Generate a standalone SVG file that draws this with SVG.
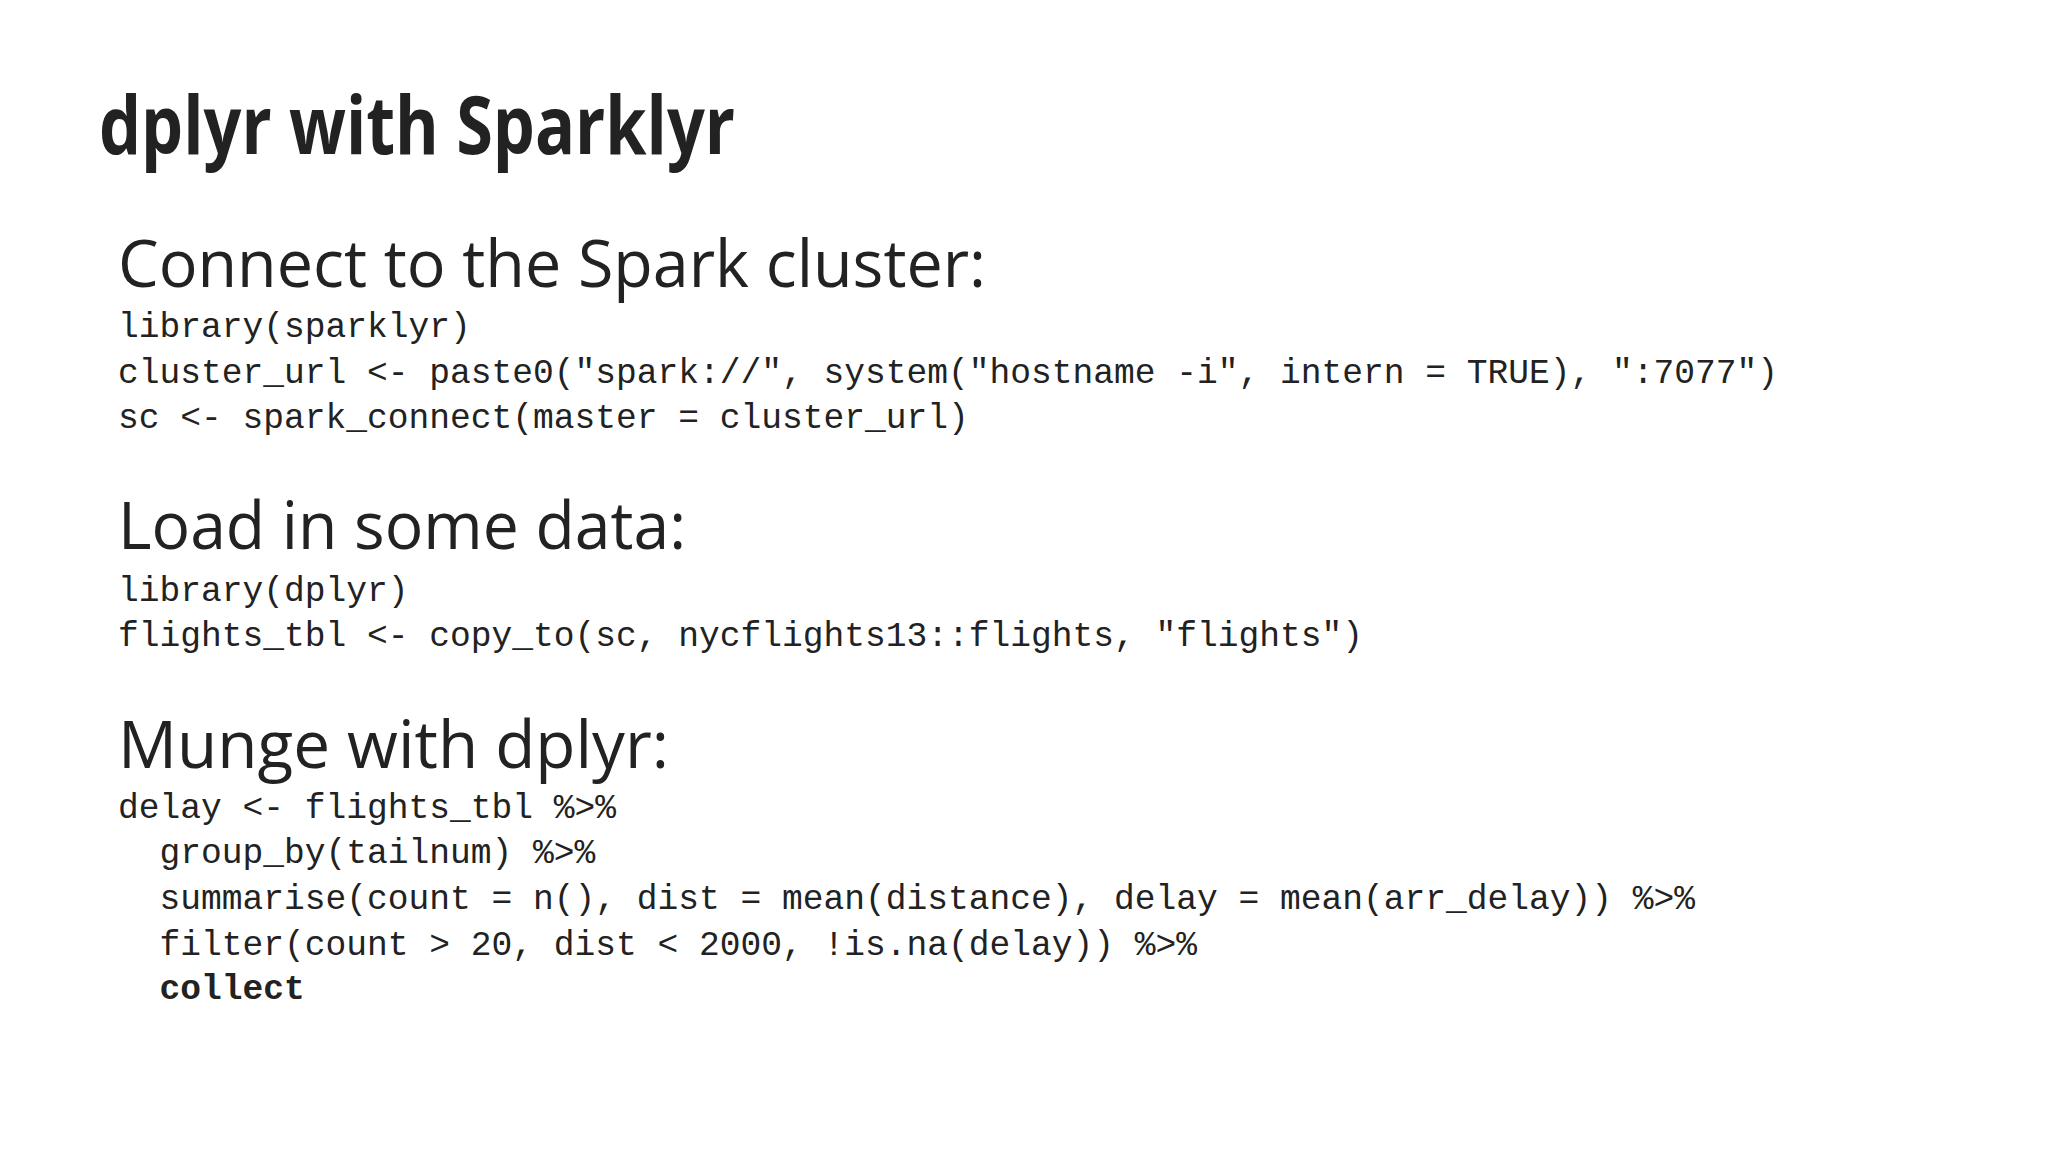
<svg xmlns="http://www.w3.org/2000/svg" width="2048" height="1152" viewBox="0 0 2048 1152">
<style>
.t{font-family:"Open Sans","Noto Sans",sans-serif;font-weight:bold;font-size:80px;fill:#222}
.h{font-family:"Open Sans","Noto Sans",sans-serif;font-size:66px;fill:#222}
.c{font-family:"Liberation Mono","DejaVu Sans Mono",monospace;font-size:34.6px;fill:#222}
</style>
<rect width="2048" height="1152" fill="#fff"/>
<text class="t" x="99" y="154" textLength="636" lengthAdjust="spacingAndGlyphs">dplyr with Sparklyr</text>
<text class="h" x="118" y="287" textLength="868" lengthAdjust="spacingAndGlyphs">Connect to the Spark cluster:</text>
<text class="c" x="118" y="337" xml:space="preserve">library(sparklyr)</text>
<text class="c" x="118" y="383" xml:space="preserve">cluster_url &lt;- paste0("spark://", system("hostname -i", intern = TRUE), ":7077")</text>
<text class="c" x="118" y="428" xml:space="preserve">sc &lt;- spark_connect(master = cluster_url)</text>
<text class="h" x="118" y="549" textLength="568" lengthAdjust="spacingAndGlyphs">Load in some data:</text>
<text class="c" x="118" y="601" xml:space="preserve">library(dplyr)</text>
<text class="c" x="118" y="646" xml:space="preserve">flights_tbl &lt;- copy_to(sc, nycflights13::flights, "flights")</text>
<text class="h" x="118" y="768" textLength="551" lengthAdjust="spacingAndGlyphs">Munge with dplyr:</text>
<text class="c" x="118" y="818" xml:space="preserve">delay &lt;- flights_tbl %&gt;%</text>
<text class="c" x="118" y="863" xml:space="preserve">  group_by(tailnum) %&gt;%</text>
<text class="c" x="118" y="909" xml:space="preserve">  summarise(count = n(), dist = mean(distance), delay = mean(arr_delay)) %&gt;%</text>
<text class="c" x="118" y="955" xml:space="preserve">  filter(count &gt; 20, dist &lt; 2000, !is.na(delay)) %&gt;%</text>
<text class="c" x="118" y="999" xml:space="preserve" font-weight="bold">  collect</text>
</svg>
